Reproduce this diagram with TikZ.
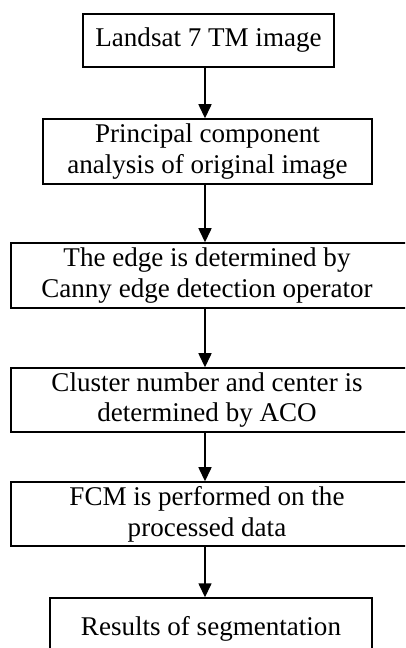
\documentclass[tikz,border=0pt]{standalone}
\usepackage{fontspec}
\setmainfont{Liberation Serif}
\usepackage{tikz}
\usetikzlibrary{arrows.meta,fit,calc}
\tikzset{
         stepbox/.style=
          {
           draw,line width=0.8pt,inner sep=0pt,align=center,
           font=\fontsize{15.4}{17.6}\selectfont
          },
         wide/.style={draw,line width=0.8pt,inner sep=0pt},
         txt/.style={align=center,inner sep=0pt,font=\fontsize{15.4}{17.6}\selectfont},
         arr/.style={line width=0.9pt,-{Triangle[length=8pt,width=7.4pt]}}
        }

\begin{document}
\begin{tikzpicture}[x=0.02cm,y=-0.02cm]
\clip(0,0)rectangle(405,648); %page
\coordinate (axis) at (205,0); %arrow line
\node[stepbox,minimum width=5.02cm,minimum height=1.06cm](land)at(208.5,40.5){Landsat 7 TM image};
\node[stepbox,minimum width=6.58cm,minimum height=1.30cm](pca)at(207.5,151.5){Principal component\\analysis of original image};
%boxes running off the right edge
\node[wide,fit={(11,243)(430,308)}](edge){};
\node[txt](edgetxt)at(207,275.5){The edge is determined by\\Canny edge detection operator};
\node[wide,fit={(11,368)(430,432)}](aco){};
\node[txt](acotxt)at(207,400){Cluster number and center is\\determined by ACO};
\node[wide,fit={(11,482)(430,546)}](fcm){};
\node[txt](fcmtxt)at(207,514){FCM is performed on the\\processed data};
\node[stepbox,minimum width=6.44cm,minimum height=1.24cm](res)at(211,629){Results of segmentation};
%arrows
\draw[arr](land.south -| axis)--(pca.north -| axis);
\draw[arr](pca.south -| axis)--(edge.north -| axis);
\draw[arr](edge.south -| axis)--(aco.north -| axis);
\draw[arr](aco.south -| axis)--(fcm.north -| axis);
\draw[arr](fcm.south -| axis)--(res.north -| axis);
\end{tikzpicture}
\end{document}
